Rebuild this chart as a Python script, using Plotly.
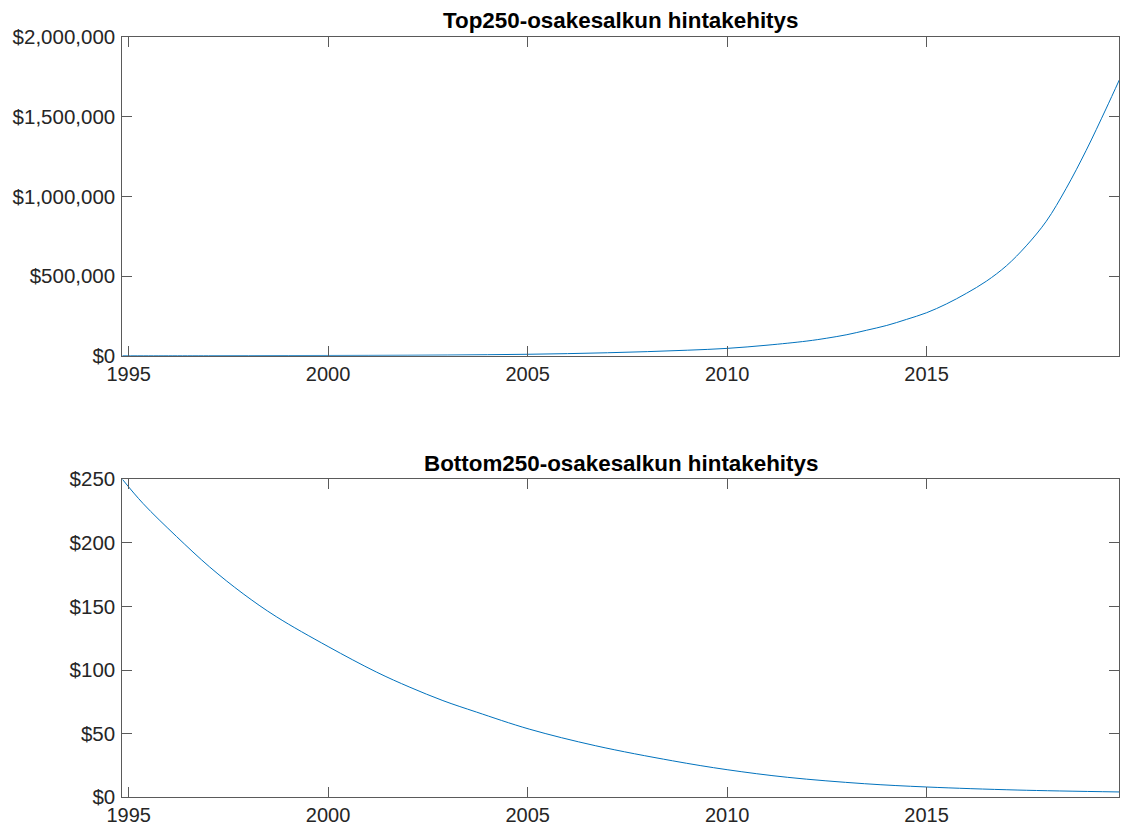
import plotly.graph_objects as go

# Top250 portfolio value (USD)
top_dates = [
    "1994-11-04", "1995-07-01", "1996-01-01", "1997-01-01", "1998-01-01",
    "1999-01-01", "2000-01-01", "2001-01-01", "2002-01-01", "2003-01-01",
    "2004-01-01", "2005-01-01", "2006-01-01", "2007-01-01", "2008-01-01",
    "2009-01-01", "2010-01-01", "2011-01-01", "2012-01-01", "2012-07-01",
    "2013-01-01", "2013-07-01", "2014-01-01", "2014-07-01", "2015-01-01",
    "2015-07-01", "2016-01-01", "2016-07-01", "2017-01-01", "2017-07-01",
    "2018-01-01", "2018-07-01", "2019-01-01", "2019-07-01", "2019-10-31",
]
top_values = [
    250, 310, 370, 520, 740,
    1050, 1500, 2100, 3000, 4300,
    6200, 9000, 13000, 18500, 25500,
    34500, 46000, 66000, 92000, 110000,
    132000, 160000, 190000, 228000, 270000,
    325000, 392000, 468000, 565000, 690000,
    845000, 1050000, 1290000, 1550000, 1732000,
]

# Bottom250 portfolio value (USD)
bottom_dates = [
    "1994-11-04", "1995-05-12", "1996-03-14", "1997-01-12", "1997-11-14",
    "1998-09-13", "2000-01-01", "2001-03-17", "2002-01-19", "2002-11-17",
    "2003-09-20", "2005-01-15", "2006-09-16", "2008-08-18", "2010-01-01",
    "2011-07-09", "2013-06-10", "2015-01-01", "2017-04-16", "2019-10-31",
]
bottom_values = [
    250, 231, 205, 181, 160,
    142, 118.5, 98.5, 86.5, 76,
    67, 53.6, 40.5, 28.7, 21.7,
    15.7, 10.7, 8.1, 5.7, 4.2,
]

year_ticks = ["1995-01-01", "2000-01-01", "2005-01-01", "2010-01-01", "2015-01-01"]
year_labels = ["1995", "2000", "2005", "2010", "2015"]

top_yticks = [0, 500000, 1000000, 1500000, 2000000]
bottom_yticks = [0, 50, 100, 150, 200, 250]

titles = ["Top250-osakesalkun hintakehitys", "Bottom250-osakesalkun hintakehitys"]

W, H = 1121, 827
LINE_BLUE = "#0072BD"
AXIS_GRAY = "#5a5a5a"
TEXT_GRAY = "#262626"
FONT = "Liberation Sans, Arial, Helvetica, sans-serif"

fig = go.Figure()
fig.add_trace(go.Scatter(x=top_dates, y=top_values, mode="lines",
                         line=dict(color=LINE_BLUE, width=1, shape="spline"),
                         xaxis="x", yaxis="y", showlegend=False))
fig.add_trace(go.Scatter(x=bottom_dates, y=bottom_values, mode="lines",
                         line=dict(color=LINE_BLUE, width=1, shape="spline"),
                         xaxis="x2", yaxis="y2", showlegend=False))

x_dom = [122.3 / W, 1119.3 / W]
top_dom = [1 - 355.7 / H, 1 - 37.3 / H]
bot_dom = [1 - 797.3 / H, 1 - 479.2 / H]
x_range = ["1994-11-04", "2019-10-31"]

common_axis = dict(
    showline=True, linecolor=AXIS_GRAY, linewidth=1, mirror="allticks",
    ticks="inside", ticklen=10, tickwidth=1, tickcolor=AXIS_GRAY,
    showgrid=False, zeroline=False, automargin=False,
)
y_font = dict(family=FONT, size=20.5, color=TEXT_GRAY)
x_font = dict(family=FONT, size=20, color=TEXT_GRAY)

fig.update_layout(
    width=W, height=H,
    margin=dict(l=0, r=0, t=0, b=0),
    paper_bgcolor="white", plot_bgcolor="white",
    xaxis=dict(domain=x_dom, anchor="y", type="date", range=x_range,
               tickvals=year_ticks, ticktext=year_labels, tickfont=x_font,
               ticklabelstandoff=0, **common_axis),
    yaxis=dict(domain=top_dom, anchor="x", range=[0, 2000000],
               tickvals=top_yticks, tickformat="$,.0f", tickfont=y_font,
               ticklabelstandoff=2, **common_axis),
    xaxis2=dict(domain=x_dom, anchor="y2", type="date", range=x_range,
                tickvals=year_ticks, ticktext=year_labels, tickfont=x_font,
                ticklabelstandoff=0, **common_axis),
    yaxis2=dict(domain=bot_dom, anchor="x2", range=[0, 250],
                tickvals=bottom_yticks, tickformat="$,.0f", tickfont=y_font,
                ticklabelstandoff=2, **common_axis),
    annotations=[
        dict(text="<b>%s</b>" % titles[0], x=(x_dom[0] + x_dom[1]) / 2,
             y=1 - 20.5 / H, xref="paper", yref="paper",
             xanchor="center", yanchor="middle", showarrow=False,
             font=dict(family=FONT, size=22.4, color="black")),
        dict(text="<b>%s</b>" % titles[1], x=(x_dom[0] + x_dom[1]) / 2,
             y=1 - 463.5 / H, xref="paper", yref="paper",
             xanchor="center", yanchor="middle", showarrow=False,
             font=dict(family=FONT, size=22.4, color="black")),
    ],
)

fig.write_html("out.html")
